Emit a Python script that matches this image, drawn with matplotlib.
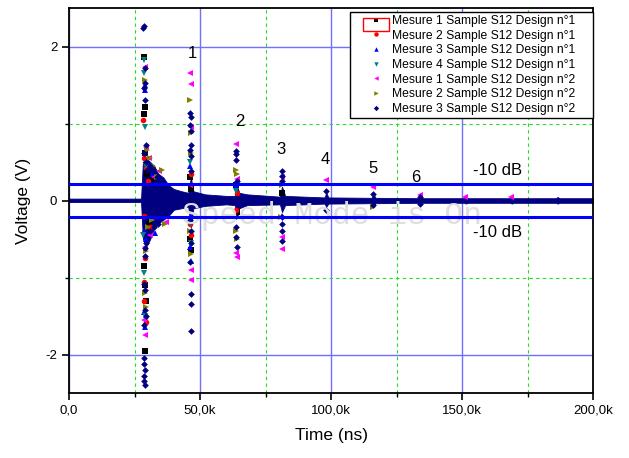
"""
Time-domain echoes of the S12 sample (Mesure 1..4, designs n°1 and n°2).
"""

import matplotlib

matplotlib.use("Agg")

import matplotlib.pyplot as plt
from matplotlib.patches import Rectangle
from matplotlib.ticker import FuncFormatter, MultipleLocator

plt.rcParams["font.family"] = ["Liberation Sans", "DejaVu Sans"]

K = 1000.0

# Mesure 1, design n°1 (black squares)
t1 = [28.6, 29.0, 28.8, 28.9, 29.6, 30.5, 31.8, 28.7, 29.4, 29.1, 28.9,
      46.2, 46.5, 46.3, 46.6, 63.8, 64.0, 81.2]
v1 = [1.87, 1.22, 1.12, 0.62, 0.35, -0.30, 0.28, -0.85, -1.30, -1.10, -1.96,
      0.30, 0.15, -0.50, -0.64, 0.20, -0.15, 0.10]

# Mesure 2, design n°1 (red circles)
t2 = [28.4, 28.7, 29.5, 30.2, 28.6, 29.0, 28.5, 28.8, 29.2, 30.8,
      46.4, 46.2, 46.5, 64.0, 63.7]
v2 = [1.04, 0.55, 0.42, 0.25, -0.20, -0.75, -1.06, -1.30, -1.58, -0.35,
      0.35, -0.30, -0.45, 0.10, -0.12]

# Mesure 3, design n°1 (blue up triangles)
t3 = [28.9, 29.1, 29.8, 31.5, 28.7, 29.3, 28.8, 29.0, 33.0,
      46.3, 46.5, 46.2, 46.4, 63.9, 81.2]
v3 = [1.50, 1.44, 0.50, 0.35, -0.40, -0.50, -1.45, -1.64, -0.42,
      0.45, -0.20, -0.60, -0.78, 0.20, -0.20]

# Mesure 4, design n°1 (teal down triangles)
t4 = [28.8, 28.5, 28.9, 29.4, 28.4, 28.7, 29.0, 29.2,
      46.3, 46.1, 46.4, 63.8]
v4 = [1.83, 1.66, 0.95, 0.45, -0.45, -0.94, -1.50, -1.55,
      0.50, -0.30, -0.55, 0.12]

# Mesure 1, design n°2 (magenta left triangles)
t5 = [28.9, 29.3, 30.5, 32.5, 29.0, 31.0, 28.7, 29.1, 34.5, 37.0,
      46.3, 46.4, 46.6, 46.2, 46.5, 46.4,
      63.7, 64.1, 63.9, 64.0, 81.2, 81.4, 81.3,
      98.0, 116.1, 134.0, 151.2, 168.8]
v5 = [1.74, 0.70, 0.55, 0.30, -0.60, -0.45, -1.55, -1.75, 0.38, -0.28,
      1.66, 1.51, 0.95, 0.20, -0.90, -1.03,
      0.73, 0.28, -0.68, -0.74, 0.30, -0.48, -0.63,
      0.26, 0.17, 0.07, 0.05, 0.04]

# Mesure 2, design n°2 (olive right triangles)
t6 = [29.0, 29.8, 30.8, 32.0, 33.5, 30.0, 31.5, 29.3, 28.9, 29.2, 35.5, 36.5,
      46.3, 46.5, 46.4, 46.2, 46.6, 63.9, 64.1, 63.8, 64.0,
      81.3, 81.1, 116.0]
v6 = [1.57, 0.65, 0.55, 0.45, 0.30, -0.35, -0.25, -0.65, -1.20, -1.38, 0.40, -0.30,
      1.31, 0.88, 0.62, -0.40, -0.70, 0.40, 0.35, -0.40, -0.50,
      0.20, -0.22, -0.09]

# Mesure 3, design n°2 (navy diamonds)
t7 = [28.5, 28.4, 28.9, 29.0, 28.8, 29.1, 29.2, 28.7, 29.5, 29.8,
      29.3, 28.9, 29.0, 28.8, 29.1, 28.9, 29.2, 28.7, 28.8, 28.6,
      28.9, 28.7, 28.8, 28.9,
      31.0, 32.0, 33.5, 35.0, 31.0, 32.5, 34.0, 36.0,
      46.3, 46.4, 46.3, 46.5, 46.4, 46.3, 46.5, 46.4, 46.3, 46.5,
      46.4, 46.3, 46.4, 46.5, 46.4,
      63.8, 63.9, 63.8, 64.0, 63.9, 63.8, 63.9, 64.0,
      81.3, 81.2, 81.3, 81.4, 81.3, 81.2, 81.3,
      98.2, 98.2, 116.2, 116.2, 134.1, 134.1]
v7 = [2.27, 2.24, 1.72, 1.52, 1.46, 1.31, 0.72, 0.62, 0.50, 0.40,
      -0.55, -0.62, -0.72, -1.08, -1.16, -1.42, -1.50, -1.62, -2.05, -2.12,
      -2.20, -2.28, -2.35, -2.40,
      0.45, 0.38, 0.30, 0.25, -0.40, -0.35, -0.30, -0.20,
      1.14, 1.08, 0.98, 0.90, 0.72, 0.65, 0.58, 0.38, -0.25, -0.40,
      -0.55, -0.80, -1.22, -1.35, -1.70,
      0.64, 0.60, 0.53, 0.25, -0.20, -0.35, -0.48, -0.61,
      0.38, 0.32, 0.25, -0.22, -0.30, -0.40, -0.52,
      0.12, -0.12, 0.08, -0.06, 0.05, -0.05]

# dense noise band of the records (upper / lower envelope)
band_t = [0, 27.5, 28.2, 29.5, 31.0, 32.5, 34.0, 36.0, 38.0, 40.0, 43.0, 45.5, 46.5,
          47.5, 52.0, 60.0, 63.3, 64.0, 65.0, 68.0, 80.5, 81.3, 82.5,
          97.5, 98.2, 99.0, 115.5, 116.2, 117.0, 133.5, 134.2, 135.0,
          150.8, 151.5, 152.2, 168.3, 169.0, 169.7, 185.8, 186.5, 187.2, 200]
band_hi = [0.025, 0.025, 0.50, 0.55, 0.50, 0.45, 0.35, 0.30, 0.20, 0.15, 0.12, 0.10, 0.30,
           0.12, 0.08, 0.06, 0.06, 0.20, 0.10, 0.08, 0.05, 0.18, 0.06,
           0.04, 0.10, 0.04, 0.035, 0.08, 0.035, 0.03, 0.06, 0.03,
           0.03, 0.05, 0.03, 0.03, 0.045, 0.03, 0.03, 0.045, 0.03, 0.03]
band_lo = [-0.02, -0.02, -0.50, -0.60, -0.50, -0.35, -0.30, -0.25, -0.20, -0.12, -0.10, -0.08, -0.35,
           -0.10, -0.07, -0.05, -0.06, -0.20, -0.10, -0.06, -0.05, -0.15, -0.06,
           -0.04, -0.08, -0.04, -0.035, -0.07, -0.035, -0.03, -0.05, -0.03,
           -0.03, -0.04, -0.03, -0.03, -0.04, -0.03, -0.03, -0.04, -0.03, -0.03]

labels = [
    "Mesure 1 Sample S12 Design n°1",
    "Mesure 2 Sample S12 Design n°1",
    "Mesure 3 Sample S12 Design n°1",
    "Mesure 4 Sample S12 Design n°1",
    "Mesure 1 Sample S12 Design n°2",
    "Mesure 2 Sample S12 Design n°2",
    "Mesure 3 Sample S12 Design n°2",
]
colors = ["#000000", "#ff0000", "#0000ff", "#008080", "#ff00ff", "#808000", "#000080"]
markers = ["s", "o", "^", "v", "<", ">", "D"]

echo_names = ["1", "2", "3", "4", "5", "6"]
echo_t = [47.0, 65.3, 80.9, 97.7, 116.0, 132.4]
echo_v = [1.91, 1.03, 0.66, 0.53, 0.42, 0.30]

threshold_v = 0.22
threshold_label = "-10 dB"


def tick_time(x, pos):
    if x == 0:
        return "0,0"
    return f"{x / K:.1f}k".replace(".", ",")


fig = plt.figure(figsize=(6.29, 4.58), dpi=100)
ax = fig.add_axes([0.1097, 0.1419, 0.8331, 0.8406])

ax.set_xlim(0, 200 * K)
ax.set_ylim(-2.5, 2.5)

ax.xaxis.set_major_locator(MultipleLocator(50 * K))
ax.xaxis.set_minor_locator(MultipleLocator(25 * K))
ax.yaxis.set_major_locator(MultipleLocator(2))
ax.yaxis.set_minor_locator(MultipleLocator(1))
ax.xaxis.set_major_formatter(FuncFormatter(tick_time))
ax.yaxis.set_major_formatter(FuncFormatter(lambda v, p: f"{v:.0f}"))

ax.grid(True, which="major", color="#7070ff", linewidth=1.0, zorder=0)
ax.grid(True, which="minor", color="#22dd22", linewidth=0.8,
        linestyle=(0, (3, 3)), zorder=0)
ax.set_axisbelow(True)

ax.tick_params(which="major", direction="out", length=5, width=1.2,
               labelsize=9.5, top=False, right=False)
ax.tick_params(which="minor", direction="out", length=3, width=1.0)
for spine in ax.spines.values():
    spine.set_linewidth(1.3)

ax.fill_between([t * K for t in band_t], band_lo, band_hi,
                color="#000080", linewidth=0.6, zorder=2)

series_t = [t1, t2, t3, t4, t5, t6, t7]
series_v = [v1, v2, v3, v4, v5, v6, v7]
for t, v, lab, col, mk in zip(series_t, series_v, labels, colors, markers):
    size = 3.4 if mk == "D" else 4.0
    ax.plot([x * K for x in t], v, linestyle="none", marker=mk, markersize=size,
            color=col, markeredgewidth=0, label=lab, zorder=3)

ax.axhline(threshold_v, color="#0000ff", linewidth=2.2, zorder=4)
ax.axhline(-threshold_v, color="#0000ff", linewidth=2.2, zorder=4)
ax.text(163.4 * K, 0.39, threshold_label, fontsize=12, ha="center", va="center")
ax.text(163.4 * K, -0.415, threshold_label, fontsize=12, ha="center", va="center")

for name, t, v in zip(echo_names, echo_t, echo_v):
    ax.text(t * K, v, name, fontsize=12, ha="center", va="center")

ax.text(43.0 * K, -0.2, "Speed Mode is On", family="Liberation Mono",
        fontsize=22.5, color="#dedede", ha="left", va="center", zorder=3.5)

ax.set_xlabel("Time (ns)", fontsize=12.5, labelpad=8)
ax.set_ylabel("Voltage (V)", fontsize=12.5, labelpad=10)

leg = ax.legend(loc="upper left", bbox_to_anchor=(0.536, 0.9896, 0.464, 0.0),
                mode="expand", borderaxespad=0,
                fontsize=8.7, labelspacing=0.22, handlelength=3.8,
                handletextpad=-0.6, borderpad=0.25, fancybox=False,
                edgecolor="black", framealpha=1, markerscale=0.8)
leg.get_frame().set_linewidth(1.0)
leg.set_zorder(6)

# selection box left around the first legend marker
fig.patches.append(Rectangle((363 / 629, 1 - 31 / 458), 26 / 629, 13 / 458,
                             transform=fig.transFigure, fill=False,
                             edgecolor="#ff0000", linewidth=1.0, zorder=10))

fig.savefig("out.png", dpi=100)
plt.close(fig)
